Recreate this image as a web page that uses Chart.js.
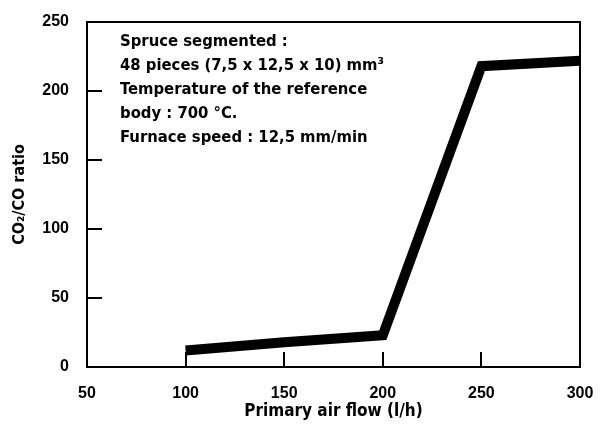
<!DOCTYPE html>
<html>
<head>
<meta charset="utf-8">
<script src="https://cdn.jsdelivr.net/npm/chart.js@4/dist/chart.umd.min.js"></script>
<style>
html,body{margin:0;padding:0;background:#fff;}
#wrap{width:600px;height:430px;position:relative;}
</style>
</head>
<body>
<div id="wrap"><canvas id="c" width="600" height="430"></canvas></div>
<script>
const airFlow = [100, 150, 200, 250, 300];
const ratio = [12, 18, 23, 218, 222];
const xTicks = [50, 100, 150, 200, 250, 300];
const yTicks = [0, 50, 100, 150, 200, 250];
const notes = [
  "Spruce segmented :",
  "48 pieces (7,5 x 12,5 x 10) mm\u00B3",
  "Temperature of the reference",
  "body : 700 \u00B0C.",
  "Furnace speed : 12,5 mm/min"
];
const xTitle = "Primary air flow (l/h)";
const yTitle = "CO\u2082/CO ratio";

const FONT = "'DejaVu Sans Condensed', 'DejaVu Sans', sans-serif";
const TICKFONT = "'Liberation Sans', sans-serif";

const framePlugin = {
  id: 'frame',
  afterDatasetsDraw(chart) {
    const {ctx, chartArea: a, scales: {x, y}} = chart;
    ctx.save();
    ctx.strokeStyle = '#000';
    ctx.lineWidth = 2;
    ctx.strokeRect(a.left, a.top, a.right - a.left, a.bottom - a.top);
    ctx.beginPath();
    yTicks.forEach(v => {
      const py = Math.round(y.getPixelForValue(v));
      ctx.moveTo(a.left, py); ctx.lineTo(a.left + 15, py);
    });
    xTicks.forEach(v => {
      const px = Math.round(x.getPixelForValue(v));
      ctx.moveTo(px, a.bottom); ctx.lineTo(px, a.bottom - 15);
    });
    ctx.stroke();
    ctx.fillStyle = '#000';
    ctx.font = "bold 16.5px " + FONT;
    ctx.textBaseline = 'middle';
    notes.forEach((t, i) => {
      ctx.fillText(t, 120, 42 + i * 24);
    });
    ctx.restore();
  }
};

new Chart(document.getElementById('c'), {
  type: 'line',
  data: {
    datasets: [{
      data: airFlow.map((v, i) => ({x: v, y: ratio[i]})),
      borderColor: '#000',
      borderWidth: 10,
      borderCapStyle: 'butt',
      borderJoinStyle: 'miter',
      pointRadius: 0,
      tension: 0,
      fill: false
    }]
  },
  options: {
    responsive: false,
    animation: false,
    layout: {padding: {left: 10, top: 22, right: 20, bottom: 8}},
    plugins: {legend: {display: false}, tooltip: {enabled: false}},
    scales: {
      x: {
        type: 'linear', min: 50, max: 300,
        afterBuildTicks: s => { s.ticks = xTicks.map(v => ({value: v})); },
        grid: {display: false, drawTicks: false},
        border: {display: false},
        ticks: {color: '#000', padding: 17, font: {family: TICKFONT, size: 16, weight: 'bold'}},
        title: {display: true, text: xTitle, color: '#000', padding: {top: 0, bottom: 0}, font: {family: FONT, size: 17, weight: 'bold'}},
        afterFit: s => { s.height = 55; s.paddingLeft = 0; s.paddingRight = 0; }
      },
      y: {
        type: 'linear', min: 0, max: 250,
        afterBuildTicks: s => { s.ticks = yTicks.map(v => ({value: v})); },
        grid: {display: false, drawTicks: false},
        border: {display: false},
        ticks: {color: '#000', padding: 18, font: {family: TICKFONT, size: 16, weight: 'bold'}},
        title: {display: true, text: yTitle, color: '#000', padding: {top: 0, bottom: 0}, font: {family: FONT, size: 16, weight: 'bold'}},
        afterFit: s => { s.width = 77; s.paddingTop = 0; s.paddingBottom = 0; }
      }
    }
  },
  plugins: [framePlugin]
});
</script>
</body>
</html>
